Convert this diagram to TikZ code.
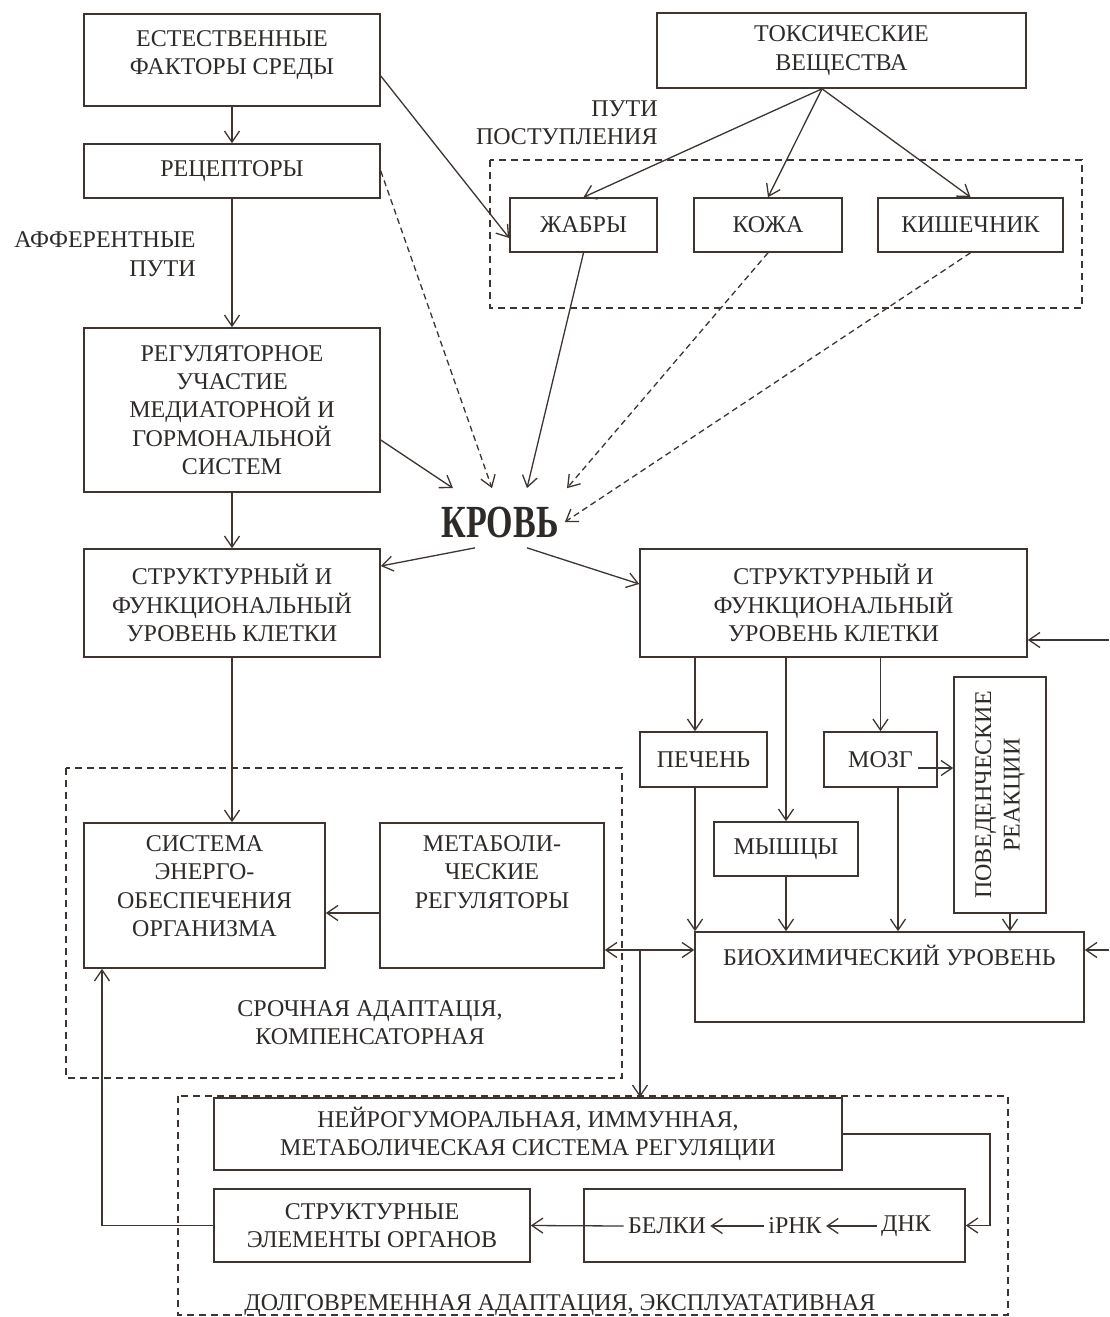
\documentclass[tikz,border=0pt]{standalone}
\usepackage{fontspec}
\setmainfont{Liberation Serif}
\usetikzlibrary{arrows.meta}
\definecolor{ink}{RGB}{62,52,48}
\definecolor{txt}{RGB}{45,42,40}
\begin{document}
\begin{tikzpicture}[x=0.5pt,y=-0.5pt,
  font=\fontsize{12}{14.2}\selectfont,
  box/.style={draw=ink, line width=0.8pt, align=center, inner sep=2pt, text=txt},
  lbl/.style={align=center, text=txt, inner sep=2pt},
  arr/.style={draw=ink, line width=0.65pt, -{Straight Barb[length=5.5pt,width=7.5pt]}},
  darr/.style={arr, dash pattern=on 3pt off 2pt},
  dbox/.style={draw=ink, line width=0.7pt, dash pattern=on 3.5pt off 2.5pt},
]
\fill[white] (0,0) rectangle (1109,1317);
\useasboundingbox (0,0) rectangle (1109,1317);

% dashed groups
\draw[dbox] (490,160) rectangle (1082,308);
\draw[dbox] (66,768) rectangle (622,1078);
\draw[dbox] (178,1096) rectangle (1008,1315);

% top
\node[box, minimum width=148pt, minimum height=46pt,
  label={[lbl, anchor=north, yshift=-6.5pt]north:{ЕСТЕСТВЕННЫЕ\\ФАКТОРЫ СРЕДЫ}}] (est) at (232,60) {};
\node[box, minimum width=184.5pt, minimum height=37.5pt] (tox) at (841.5,50.5) {ТОКСИЧЕСКИЕ\\ВЕЩЕСТВА};
\node[box, minimum width=148pt, minimum height=27pt] (rec) at (232,171) {РЕЦЕПТОРЫ};
\node[lbl, align=right, anchor=east] (aff) at (200,254) {АФФЕРЕНТНЫЕ\\ПУТИ};
\node[lbl, align=right, anchor=east] (pp) at (662,123) {ПУТИ\\ПОСТУПЛЕНИЯ};
\node[box, minimum width=73.5pt, minimum height=27pt] (zhab) at (583.5,225) {ЖАБРЫ};
\node[box, minimum width=74pt, minimum height=27pt] (kozh) at (768,225) {КОЖА};
\node[box, minimum width=92.5pt, minimum height=27pt] (kish) at (970.5,225) {КИШЕЧНИК};
\node[box, minimum width=148pt, minimum height=82pt] (reg) at (232,410) {РЕГУЛЯТОРНОЕ\\УЧАСТИЕ\\МЕДИАТОРНОЙ И\\ГОРМОНАЛЬНОЙ\\СИСТЕМ};
\node[lbl, font=\bfseries\fontsize{23}{26}\selectfont, inner sep=0pt] (krov) at (500,522) {\scalebox{0.74}[1]{КРОВЬ}};

% cell level
\node[box, minimum width=148pt, minimum height=54pt] (strL) at (232,603) {СТРУКТУРНЫЙ И\\ФУНКЦИОНАЛЬНЫЙ\\УРОВЕНЬ КЛЕТКИ};
\node[box, minimum width=193.5pt, minimum height=54pt] (strR) at (833.5,603) {СТРУКТУРНЫЙ И\\ФУНКЦИОНАЛЬНЫЙ\\УРОВЕНЬ КЛЕТКИ};
\node[box, minimum width=63.5pt, minimum height=27.5pt] (pech) at (703.5,759.5) {ПЕЧЕНЬ};
\node[box, minimum width=56.5pt, minimum height=27.5pt] (mozg) at (880.5,759.5) {МОЗГ};
\node[box, minimum width=46pt, minimum height=118pt] (pov) at (1000,795) {};
\node[lbl, rotate=90] (povt) at (pov.center) {ПОВЕДЕНЧЕСКИЕ\\РЕАКЦИИ};
\node[box, minimum width=72pt, minimum height=27pt] (mysh) at (786,849) {МЫШЦЫ};
\node[box, minimum width=194.5pt, minimum height=45pt,
  label={[lbl, anchor=north, yshift=-5pt]north:{БИОХИМИЧЕСКИЙ УРОВЕНЬ}}] (bio) at (889.5,977) {};

% urgent adaptation
\node[box, minimum width=120.5pt, minimum height=72.5pt,
  label={[lbl, anchor=north, yshift=-4.5pt]north:{СИСТЕМА\\ЭНЕРГО-\\ОБЕСПЕЧЕНИЯ\\ОРГАНИЗМА}}] (sys) at (204.5,895.5) {};
\node[box, minimum width=112pt, minimum height=72.5pt,
  label={[lbl, anchor=north, yshift=-4.5pt]north:{МЕТАБОЛИ-\\ЧЕСКИЕ\\РЕГУЛЯТОРЫ}}] (met) at (492,895.5) {};
\node[lbl] (sroch) at (370,1022.5) {СРОЧНАЯ АДАПТАЦІЯ,\\КОМПЕНСАТОРНАЯ};

% long-term adaptation
\node[box, minimum width=314pt, minimum height=36pt] (neiro) at (528,1134) {НЕЙРОГУМОРАЛЬНАЯ, ИММУННАЯ,\\МЕТАБОЛИЧЕСКАЯ СИСТЕМА РЕГУЛЯЦИИ};
\node[box, minimum width=158pt, minimum height=36.5pt] (strEl) at (372,1225.5) {СТРУКТУРНЫЕ\\ЭЛЕМЕНТЫ ОРГАНОВ};
\node[box, minimum width=190.5pt, minimum height=36.5pt] (dnkbox) at (774.5,1225.5) {};
\node[lbl] (belki) at (667,1226) {БЕЛКИ};
\node[lbl] (irnk) at (795,1226) {іРНК};
\node[lbl] (dnk) at (906,1226) {ДНК};
\node[lbl] (dolg) at (560,1305) {ДОЛГОВРЕМЕННАЯ АДАПТАЦИЯ, ЭКСПЛУАТАТИВНАЯ};

% helper coordinates
\coordinate (tb) at ([xshift=-9.75pt]tox.south);
\coordinate (pn) at ([xshift=-4.25pt]pech.north);
\coordinate (ps) at ([xshift=-4.25pt]pech.south);
\coordinate (ms) at ([xshift=8.75pt]mozg.south);
\coordinate (mz) at ([xshift=-10pt,yshift=-4.25pt]mozg.east);
\coordinate (pvs) at ([xshift=5pt]pov.south);
\coordinate (mw) at ([yshift=-8.75pt]met.west);
\coordinate (sb) at ([xshift=-51.25pt]sys.south);
\coordinate (j) at (640,950);
\coordinate (nr) at (990,1134);
\coordinate (rin1) at (1109,640);
\coordinate (rin2) at (1109,950);

% connectors: left column
\draw[arr] (est.south) -- (rec.north);
\draw[arr] (rec.south) -- (reg.north);
\draw[arr] (reg.south) -- (strL.north);
\draw[arr] (strL.south) -- (strL.south |- sys.north);

% entry routes
\draw[arr] ([yshift=-8pt]est.east) -- ([yshift=-6.5pt]zhab.west);
\draw[arr] (tb) -- (zhab.north);
\draw[arr] (tb) -- (kozh.north);
\draw[arr] (tb) -- (kish.north);

% into blood
\draw[arr] ([yshift=-15pt]reg.east) -- ([xshift=-23.5pt,yshift=9pt]krov.north);
\draw[darr] (rec.east) -- ([xshift=-4pt,yshift=9pt]krov.north);
\draw[arr] (zhab.south) -- ([xshift=13.5pt,yshift=9pt]krov.north);
\draw[darr] (kozh.south) -- ([xshift=33.5pt,yshift=9pt]krov.north);
\draw[darr] (kish.south) -- ([xshift=3pt]krov.east);

% out of blood
\draw[arr] ([xshift=-12.5pt,yshift=-5pt]krov.south) -- ([yshift=18.5pt]strL.east);
\draw[arr] ([xshift=13.5pt,yshift=-5pt]krov.south) -- ([yshift=9.5pt]strR.west);

% right column
\draw[arr] (pn |- strR.south) -- (pn);
\draw[arr] (mysh.north |- strR.south) -- (mysh.north);
\draw[arr] (mozg.north |- strR.south) -- (mozg.north);
\draw[arr] (ps) -- (ps |- bio.north);
\draw[arr] (mysh.south) -- (mysh.south |- bio.north);
\draw[arr] (ms) -- (ms |- bio.north);
\draw[arr] (mz) -- (mz -| pov.west);
\draw[arr] (pvs) -- (pvs |- bio.north);
\draw[arr] (rin1) -- (rin1 -| strR.east);
\draw[arr] (rin2) -- (rin2 -| bio.east);

% urgent adaptation links
\draw[arr] (mw) -- (mw -| sys.east);
\draw[arr] (j) -- (j -| met.east);
\draw[arr] (j) -- (j -| bio.west);
\draw[arr] (j) -- (j |- neiro.north);

% long-term links
\draw[arr] (neiro.east) -- (nr) |- (dnkbox.east);
\draw[arr] (dnk.west) -- (irnk.east);
\draw[arr] (irnk.west) -- (belki.east);
\draw[arr] (belki.west) -- (strEl.east);
\draw[arr] (strEl.west) -| (sb);
\end{tikzpicture}
\end{document}
